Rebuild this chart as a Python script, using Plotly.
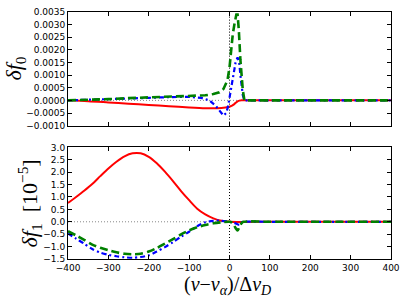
import plotly.graph_objects as go

# ---------- data ----------
# top panel: delta f0
x0_red = [-400, -350, -300, -250, -200, -150, -100, -60, -30, -10, 0, 5, 10, 15, 20, 25, 30, 100, 200, 300, 400]
f0_red = [0.0, -0.00003, -0.00008, -0.00013, -0.00018, -0.00023, -0.00028, -0.00031, -0.00031, -0.00028,
          -0.00025, -0.00022, -0.00017, -0.0001, -0.00004, -0.00001, 0.0, 0.0, 0.0, 0.0, 0.0]

x0_blue = [-400, -300, -200, -150, -100, -70, -50, -35, -25, -15, -8, -3, 0, 5, 10, 15, 20, 24, 27, 30, 33, 37,
           100, 200, 300, 400]
f0_blue = [0.0, 0.00004, 0.0001, 0.00013, 0.00014, 0.0001, 0.0, -0.0002, -0.0004, -0.0006, -0.0005, -0.0002,
           0.0001, 0.0006, 0.0011, 0.0015, 0.0017, 0.0015, 0.001, 0.0005, 0.0002, 0.0, 0.0, 0.0, 0.0, 0.0]

x0_green = [-400, -350, -300, -250, -200, -150, -100, -60, -40, -25, -15, -5, 0, 4, 8, 12, 17, 20, 23, 27, 30,
            33, 37, 100, 200, 300, 400]
f0_green = [0.0, 0.00002, 0.00005, 0.00009, 0.00012, 0.00015, 0.00017, 0.0002, 0.00025, 0.00032, 0.00045,
            0.0008, 0.0013, 0.0021, 0.0026, 0.003, 0.0034, 0.0034, 0.0028, 0.0016, 0.0009, 0.0004, 0.0,
            0.0, 0.0, 0.0, 0.0]

# bottom panel: delta f1 [1e-5]
x1_red = [-400, -380, -360, -340, -320, -300, -280, -260, -240, -220, -200, -180, -160, -140, -120, -100,
          -80, -60, -40, -20, 0, 100, 200, 300, 400]
f1_red = [0.76, 1.00, 1.25, 1.52, 1.84, 2.15, 2.42, 2.64, 2.76, 2.76, 2.62, 2.36, 2.02, 1.64, 1.24, 0.87,
          0.53, 0.30, 0.14, 0.04, 0.0, 0.0, 0.0, 0.0, 0.0]

x1_blue = [-400, -380, -360, -340, -320, -300, -280, -260, -240, -220, -200, -180, -160, -140, -120, -100,
           -80, -60, -40, -20, 0, 10, 20, 25, 30, 35, 100, 200, 300, 400]
f1_blue = [-0.47, -0.68, -0.88, -1.10, -1.24, -1.33, -1.39, -1.43, -1.45, -1.42, -1.35, -1.20, -1.02, -0.82,
           -0.60, -0.40, -0.18, -0.02, 0.04, 0.04, 0.0, -0.03, -0.1, -0.12, -0.03, 0.0, 0.0, 0.0, 0.0, 0.0]

x1_green = [-400, -380, -360, -340, -320, -300, -280, -260, -240, -220, -200, -180, -160, -140, -120, -100,
            -80, -60, -40, -20, 0, 5, 10, 15, 20, 25, 30, 35, 100, 200, 300, 400]
f1_green = [-0.38, -0.55, -0.73, -0.92, -1.05, -1.15, -1.23, -1.29, -1.31, -1.29, -1.20, -1.06, -0.88, -0.70,
            -0.51, -0.35, -0.22, -0.13, -0.06, -0.02, 0.0, -0.02, -0.1, -0.25, -0.35, -0.2, -0.05, 0.0,
            0.0, 0.0, 0.0, 0.0]

x_ticks = [-400, -300, -200, -100, 0, 100, 200, 300, 400]
y0_ticks = [-0.001, -0.0005, 0.0, 0.0005, 0.001, 0.0015, 0.002, 0.0025, 0.003, 0.0035]
y1_ticks = [-1.5, -1.0, -0.5, 0.0, 0.5, 1.0, 1.5, 2.0, 2.5, 3.0]

RED, BLUE, GREEN = "#ff0000", "#0000ff", "#008000"
DASHDOT = "5px,3px,2px,3px"
DASH = "8px,4px"

fig = go.Figure()


def add(x, y, color, dash, width, ax, shape="linear"):
    fig.add_trace(go.Scatter(x=x, y=y, mode="lines", xaxis="x" if ax == 1 else "x2",
                             yaxis="y" if ax == 1 else "y2",
                             line=dict(color=color, dash=dash, width=width, shape=shape,
                                       smoothing=0.8 if shape == "spline" else None),
                             showlegend=False, hoverinfo="skip"))


add(x0_red, f0_red, RED, "solid", 2, 1, "spline")
add(x0_blue, f0_blue, BLUE, DASHDOT, 2.2, 1)
add(x0_green, f0_green, GREEN, DASH, 2.6, 1)
add(x1_red, f1_red, RED, "solid", 2, 2, "spline")
add(x1_blue, f1_blue, BLUE, DASHDOT, 2.2, 2, "spline")
add(x1_green, f1_green, GREEN, DASH, 2.6, 2, "spline")

tickfont = dict(family="DejaVu Sans", size=9, color="black")
axcommon = dict(showline=True, linecolor="black", linewidth=1, mirror="ticks", ticks="inside",
                ticklen=4, tickcolor="black", tickwidth=1, showgrid=False, zeroline=False,
                tickfont=tickfont)

fig.update_layout(
    width=407, height=299,
    margin=dict(l=68, r=15, t=7, b=40),
    paper_bgcolor="white", plot_bgcolor="white",
    xaxis=dict(domain=[0, 1], anchor="y", range=[-400, 400], tickvals=x_ticks,
               showticklabels=False, matches="x2", **axcommon),
    yaxis=dict(domain=[0.54, 1], anchor="x", range=[-0.001, 0.0035], tickvals=y0_ticks,
               tickformat=".4f", **axcommon),
    xaxis2=dict(domain=[0, 1], anchor="y2", range=[-400, 400], tickvals=x_ticks, **axcommon),
    yaxis2=dict(domain=[0, 0.452], anchor="x2", range=[-1.5, 3.0], tickvals=y1_ticks,
                tickformat=".1f", **axcommon),
)

# reference lines
for xr, yr in (("x", "y"), ("x2", "y2")):
    fig.add_shape(type="line", xref=xr, yref=yr + " domain", x0=0, x1=0, y0=0, y1=1,
                  line=dict(color="black", width=1, dash="1px,2px"), layer="below")
    fig.add_shape(type="line", xref=xr + " domain", yref=yr, x0=0, x1=1, y0=0, y1=0,
                  line=dict(color="#888888", width=1, dash="1px,2px"), layer="below")

titlefont = dict(family="Liberation Serif", size=22, color="black")
fig.add_annotation(text="<i>δf</i><sub>0</sub>", xref="paper", yref="paper",
                   x=-0.165, y=0.77, xanchor="center", yanchor="middle", textangle=-90,
                   showarrow=False, font=titlefont)
fig.add_annotation(text="<i>δf</i><sub>1</sub>  [10<sup>−5</sup>]", xref="paper", yref="paper",
                   x=-0.12, y=0.226, xanchor="center", yanchor="middle", textangle=-90,
                   showarrow=False, font=titlefont)
fig.add_annotation(text="(<i>ν</i>−<i>ν</i><sub><i>α</i></sub>)/Δ<i>ν</i><sub><i>D</i></sub>",
                   xref="paper", yref="paper", x=0.493, y=-0.106, xanchor="center", yanchor="middle",
                   showarrow=False, font=dict(family="Liberation Serif", size=20, color="black"))

fig.write_html("out.html", post_script="document.body.style.margin='0';",
               config={"displayModeBar": False})
